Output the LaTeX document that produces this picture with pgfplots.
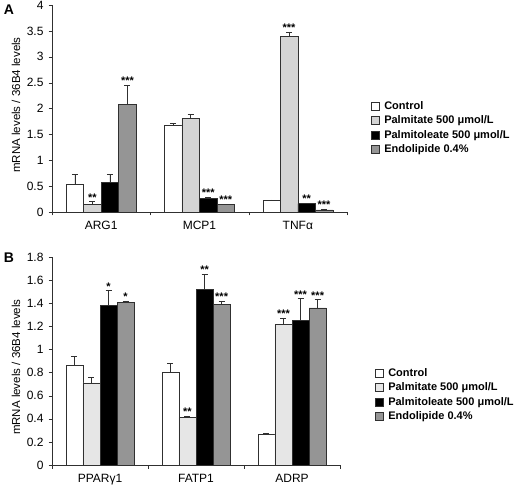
\documentclass[border=0pt]{standalone}
\usepackage{fontspec}
\setmainfont{Liberation Sans}
\usepackage{pgfplots}
\pgfplotsset{compat=1.18}
\definecolor{ctrl}{HTML}{FFFFFF}
\definecolor{palmA}{HTML}{D4D4D4}
\definecolor{palmB}{HTML}{E6E6E6}
\definecolor{palo}{HTML}{000000}
\definecolor{endo}{HTML}{959595}
\definecolor{edge}{HTML}{303030}
\begin{document}
\begin{tikzpicture}[font=\fontsize{11.5}{13}\selectfont]
\useasboundingbox (0,0) rectangle (521pt,490pt);
\pgfplotsset{
  panel/.style={
    scale only axis, anchor=south west,
    xmin=0, xmax=3, ymin=0,
    axis x line=bottom, axis y line=left,
    axis line style={-, edge},
    xtick={0,1,2,3}, xticklabels={},
    extra x tick style={major tick length=0pt, tick label style={yshift=-6pt}},
    tick align=outside, major tick length=3.5pt,
    tick style={edge},
    /pgf/number format/assume math mode=true,
    tick label style={font=\fontsize{12}{13}\selectfont},
    yticklabel style={xshift=-1.5pt},
    ylabel={mRNA levels / 36B4 levels},
    label style={font=\fontsize{11.5}{13}\selectfont},
    legend cell align=left,
    legend style={draw=none, fill=none, font=\bfseries\fontsize{11}{12}\selectfont,
      row sep=1pt, column sep=2.5pt, anchor=north west},
    legend image code/.code={\draw[##1] (0pt,-4pt) rectangle (8.5pt,4pt);},
    clip=false,
  },
  bars/.style={ybar, bar shift=0pt, bar width=0.178, draw=edge, line width=0.6pt, forget plot,
    error bars/y dir=plus, error bars/y explicit,
    error bars/error bar style={edge, line width=0.6pt},
    error bars/error mark options={rotate=90, mark size=3pt, edge, line width=0.6pt}},
  stars/.style={draw=none, mark=none, forget plot, nodes near coords,
    point meta=explicit symbolic,
    nodes near coords style={anchor=base, inner sep=0pt, yshift=0.5pt,
      font=\bfseries\fontsize{11}{11}\selectfont}},
}
% ---------------- Panel A ----------------
\begin{axis}[panel, at={(52pt,278pt)}, width=295pt, height=207pt,
  ymax=4, ytick={0,0.5,1,1.5,2,2.5,3,3.5,4},
  extra x ticks={0.5,1.5,2.5}, extra x tick labels={ARG1,MCP1,TNFα},
  ylabel style={at={(axis description cs:-0.122,0.517)}, anchor=center},
  legend style={at={(1.07,0.556)}}]
\addlegendimage{fill=ctrl, draw=edge}\addlegendentry{Control}
\addlegendimage{fill=palmA, draw=edge}\addlegendentry{Palmitate 500 μmol/L}
\addlegendimage{fill=palo, draw=edge}\addlegendentry{Palmitoleate 500 μmol/L}
\addlegendimage{fill=endo, draw=edge}\addlegendentry{Endolipide 0.4\%}
\addplot[bars, fill=ctrl] coordinates {(0.233,0.54) +- (0,0.19) (1.233,1.68) +- (0,0.03) (2.233,0.23) +- (0,0.004)};
\addplot[bars, fill=palmA] coordinates {(0.411,0.15) +- (0,0.05) (1.411,1.81) +- (0,0.08) (2.411,3.40) +- (0,0.08)};
\addplot[bars, fill=palo] coordinates {(0.589,0.57) +- (0,0.16) (1.589,0.27) +- (0,0.02) (2.589,0.16) +- (0,0.01)};
\addplot[bars, fill=endo] coordinates {(0.767,2.08) +- (0,0.37) (1.767,0.14) +- (0,0.01) (2.767,0.04) +- (0,0.01)};
\addplot[stars] coordinates {(0.411,0.20) [**] (0.767,2.45) [***] (1.589,0.29) [***] (1.767,0.15) [***]
  (2.411,3.48) [***] (2.589,0.17) [**] (2.767,0.05) [***]};
\end{axis}
% ---------------- Panel B ----------------
\begin{axis}[panel, at={(52pt,25pt)}, width=288pt, height=208pt,
  ymax=1.8, ytick={0,0.2,0.4,0.6,0.8,1,1.2,1.4,1.6,1.8},
  extra x ticks={0.5,1.5,2.5}, extra x tick labels={PPARγ1,FATP1,ADRP},
  ylabel style={at={(axis description cs:-0.125,0.47)}, anchor=center},
  legend style={at={(1.11,0.486)}}]
\addlegendimage{fill=ctrl, draw=edge}\addlegendentry{Control}
\addlegendimage{fill=palmB, draw=edge}\addlegendentry{Palmitate 500 μmol/L}
\addlegendimage{fill=palo, draw=edge}\addlegendentry{Palmitoleate 500 μmol/L}
\addlegendimage{fill=endo, draw=edge}\addlegendentry{Endolipide 0.4\%}
\addplot[bars, fill=ctrl] coordinates {(0.233,0.86) +- (0,0.08) (1.233,0.80) +- (0,0.08) (2.233,0.27) +- (0,0.004)};
\addplot[bars, fill=palmB] coordinates {(0.411,0.71) +- (0,0.05) (1.411,0.41) +- (0,0.01) (2.411,1.22) +- (0,0.05)};
\addplot[bars, fill=palo] coordinates {(0.589,1.38) +- (0,0.13) (1.589,1.52) +- (0,0.13) (2.589,1.25) +- (0,0.19)};
\addplot[bars, fill=endo] coordinates {(0.767,1.41) +- (0,0.01) (1.767,1.39) +- (0,0.03) (2.767,1.36) +- (0,0.07)};
\addplot[stars] coordinates {(0.589,1.51) [*] (0.767,1.42) [*] (1.411,0.42) [**] (1.589,1.65) [**]
  (1.767,1.42) [***] (2.411,1.27) [***] (2.589,1.44) [***] (2.767,1.43) [***]};
\end{axis}
\node[font=\bfseries\fontsize{14}{14}\selectfont] at (9pt,480pt) {A};
\node[font=\bfseries\fontsize{14}{14}\selectfont] at (9pt,232pt) {B};
\end{tikzpicture}
\end{document}
